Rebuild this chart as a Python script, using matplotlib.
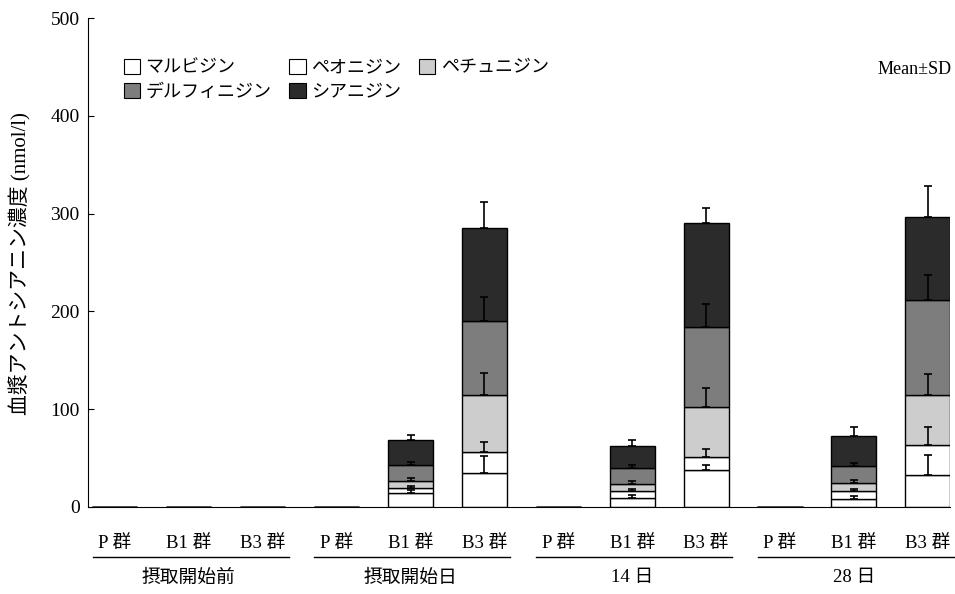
import numpy as np
import matplotlib
matplotlib.use('Agg')
import matplotlib.pyplot as plt
from matplotlib.patches import Patch
from matplotlib.transforms import blended_transform_factory

plt.rcParams['font.family'] = ['Liberation Serif', 'Noto Sans CJK JP']

# data
periods = ['摂取開始前', '摂取開始日', '14 日', '28 日']
groups = ['P 群', 'B1 群', 'B3 群']
pigments = ['マルビジン', 'ペオニジン', 'ペチュニジン', 'デルフィニジン', 'シアニジン']

malvidin    = [0, 0, 0,  0, 14, 35,  0,  9, 38,  0,  8, 33]
peonidin    = [0, 0, 0,  0,  5, 21,  0,  7, 13,  0,  8, 30]
petunidin   = [0, 0, 0,  0,  8, 59,  0,  8, 51,  0,  9, 52]
delphinidin = [0, 0, 0,  0, 16, 75,  0, 16, 82,  0, 17, 97]
cyanidin    = [0, 0, 0,  0, 25, 95,  0, 22, 106, 0, 31, 85]

malvidin_sd    = [0, 0, 0,  0, 3, 17,  0, 3, 5,   0, 3, 20]
peonidin_sd    = [0, 0, 0,  0, 2, 10,  0, 2, 8,   0, 2, 19]
petunidin_sd   = [0, 0, 0,  0, 3, 22,  0, 3, 20,  0, 3, 21]
delphinidin_sd = [0, 0, 0,  0, 3, 25,  0, 3, 24,  0, 3, 25]
cyanidin_sd    = [0, 0, 0,  0, 6, 27,  0, 6, 16,  0, 9, 31]

series = [malvidin, peonidin, petunidin, delphinidin, cyanidin]
sds = [malvidin_sd, peonidin_sd, petunidin_sd, delphinidin_sd, cyanidin_sd]
colors = ['white', 'white', '#cdcdcd', '#7d7d7d', '#2b2b2b']

fig = plt.figure(figsize=(9.55, 5.94), dpi=100)
ax = fig.add_axes([0.0921, 0.1465, 0.9026, 0.823])

x = np.arange(len(periods) * len(groups))
bottom = np.zeros(len(x))
for vals, sd, col in zip(series, sds, colors):
    vals = np.array(vals, float)
    ax.bar(x, vals, 0.61, bottom=bottom, color=col, edgecolor='black', linewidth=1.0, zorder=2)
    top = bottom + vals
    m = vals > 0
    ax.errorbar(x[m], top[m], yerr=[np.zeros(m.sum()), np.array(sd, float)[m]],
                fmt='none', ecolor='black', elinewidth=1.2, capsize=3, capthick=1.2, zorder=3)
    bottom = top

ax.set_xlim(-0.365, 11.3)
ax.set_ylim(0, 500)
ax.set_yticks(range(0, 501, 100))
ax.tick_params(axis='y', direction='in', length=4, labelsize=14, pad=6)
ax.set_xticks(x)
ax.set_xticklabels(groups * len(periods), fontsize=13.5)
ax.tick_params(axis='x', length=0, pad=20)
for s in ['top', 'right']:
    ax.spines[s].set_visible(False)

tr = blended_transform_factory(ax.transData, ax.transAxes)
for i, p in enumerate(periods):
    c = i * 3
    ax.plot([c - 0.3, c + 2.35], [-0.102, -0.102], color='black', lw=1.0,
            transform=tr, clip_on=False)
    ax.text(c + 1, -0.145, p, transform=tr, ha='center', va='center', fontsize=13.5)

# legend: row 1 M, Pe, Pt ; row 2 D, C
handles = [Patch(facecolor=c, edgecolor='black', linewidth=0.8) for c in colors]
order = [0, 3, 1, 4, 2]
ax.legend([handles[i] for i in order], [pigments[i] for i in order], ncol=3,
          loc='upper left', bbox_to_anchor=(0.031, 0.935), frameon=False,
          fontsize=13, handlelength=0.9, handleheight=0.9, handletextpad=0.3,
          columnspacing=1.0, labelspacing=0.35, borderpad=0)

ax.text(1.002, 0.894, 'Mean±SD', transform=ax.transAxes, ha='right', va='center', fontsize=13)
fig.text(0.021, 0.556, '血漿アントシアニン濃度 (nmol/l)', rotation=90,
         ha='center', va='center', fontsize=15)

fig.savefig('out.png', dpi=100)
